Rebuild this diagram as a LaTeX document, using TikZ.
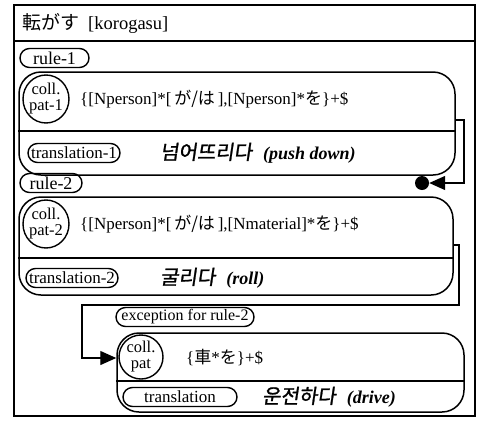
\documentclass[tikz,border=0pt]{standalone}
\usepackage{fontspec}
\setmainfont{Liberation Serif}
\newfontfamily\jp{Noto Sans CJK JP}
\newfontfamily\kr[FakeSlant=0.15,FakeBold=1.2]{Noto Sans CJK KR}
\usetikzlibrary{shapes.geometric,shapes.misc,arrows.meta}
\tikzset{
  frame/.style={draw, line width=1.1pt},
  pill/.style={draw, rounded rectangle, line width=1.4pt, minimum height=19pt, inner xsep=2pt, inner ysep=-1pt, font=\fontsize{17}{18}\selectfont},
  rulepill/.style={pill, font=\fontsize{18}{19}\selectfont},
  collel/.style={draw, ellipse, line width=1.4pt, minimum width=46pt, minimum height=48pt, inner sep=-3pt, align=center, font=\fontsize{16.5}{16}\selectfont},
  bigbox/.style={draw, rounded corners=22pt, line width=1.5pt},
  pattxt/.style={anchor=west, inner sep=0pt, font=\fontsize{17}{18}\selectfont},
  trtxt/.style={anchor=west, inner sep=0pt, font=\fontsize{18}{19}\selectfont},
  conn/.style={draw, line width=1.3pt},
  bigtip/.style={-{Triangle[length=16pt,width=14pt]}}
}
\newcommand{\kor}[1]{{\kr\fontsize{20}{21}\selectfont #1}}
\begin{document}
\begin{tikzpicture}[x=1pt,y=-1pt]
\useasboundingbox (0,0) rectangle (479,426);
% outer frame
\node[frame, minimum width=461pt, minimum height=411pt, inner sep=0pt] (outer) at (244.5,210.5) {};
\draw[frame] (outer.west |- 0,41) -- (outer.east |- 0,41);
\node[anchor=west, inner sep=0pt, font=\fontsize{18.5}{19}\selectfont] (title) at (22,23) {{\jp\fontsize{19}{20}\selectfont 転がす}\hspace{9pt}[korogasu]};

% rule 1
\node[rulepill, minimum width=73pt] (r1) at (54.5,58) {rule-1};
\node[bigbox, minimum width=436pt, minimum height=103pt] (b1) at (237,123.5) {};
\draw[line width=1.3pt] (b1.west |- 0,131) -- (b1.east |- 0,131);
\node[collel] (c1) at (46,99) {coll.\\pat-1};
\node[pattxt] (p1) at (80,99) {\{[Nperson]*[\,{\jp が/は}\,],[Nperson]*{\jp を}\}+\$};
\node[pill, minimum width=96pt] (t1) at (74,153) {translation-1};
\node[trtxt] (k1) at (160,153) {\kor{넘어뜨리다}\hspace{11pt}\textbf{\textit{(push down)}}};

% connector 1
\node[circle, fill, minimum size=14pt, inner sep=0pt] (dot) at (422,183) {};
\coordinate (c1a) at (464,120);
\coordinate (c1b) at (464,183);
\draw[conn, bigtip] (b1.east |- c1a) -- (c1a) -- (c1b) -- (dot.east);

% rule 2
\node[rulepill, minimum width=66pt] (r2) at (51,183) {rule-2};
\node[bigbox, minimum width=434pt, minimum height=98pt] (b2) at (236,246) {};
\draw[line width=1.3pt] (b2.west |- 0,258) -- (b2.east |- 0,258);
\node[collel] (c2) at (46,224) {coll.\\pat-2};
\node[pattxt] (p2) at (80,224) {\{[Nperson]*[\,{\jp が/は}\,],[Nmaterial]*{\jp を}\}+\$};
\node[pill, minimum width=96pt] (t2) at (72,278) {translation-2};
\node[trtxt] (k2) at (160,278) {\kor{굴리다}\hspace{11pt}\textbf{\textit{(roll)}}};

% connector 2
\coordinate (c2a) at (459,245);
\coordinate (c2b) at (459,305);
\coordinate (c2c) at (82,305);
\coordinate (c2d) at (82,358);

% exception
\node[pill, minimum width=132pt, font=\fontsize{16}{17}\selectfont] (ex) at (185,317) {exception for rule-2};
\node[bigbox, minimum width=347pt, minimum height=79pt] (b3) at (290.5,372.5) {};
\draw[line width=1.3pt] (b3.west |- 0,381) -- (b3.east |- 0,381);
\node[collel, minimum width=44pt, minimum height=44pt] (c3) at (141,357) {coll.\\pat};
\node[pattxt] (p3) at (186,357) {\{{\jp 車}*{\jp を}\}+\$};
\node[pill, minimum width=118pt] (t3) at (180,397) {translation\hspace{10pt}};
\node[trtxt] (k3) at (262,397) {\kor{운전하다}\hspace{11pt}\textbf{\textit{(drive)}}};
\draw[conn, bigtip] (b2.east |- c2a) -- (c2a) -- (c2b) -- (c2c) -- (c2d) -- (b3.west |- c2d);
\end{tikzpicture}
\end{document}
